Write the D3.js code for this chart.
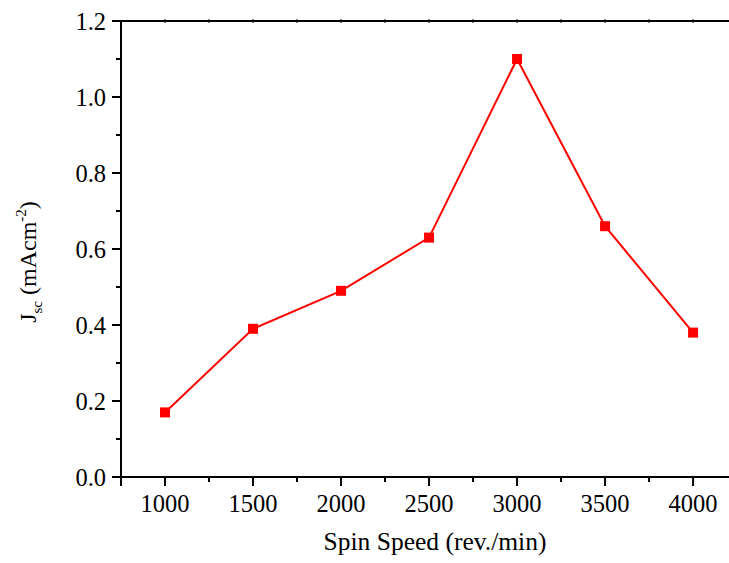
<!DOCTYPE html>
<html><head><meta charset="utf-8">
<script src="https://cdn.jsdelivr.net/npm/d3@7"></script>
<style>body{margin:0;background:#fff}svg{display:block}text{font-family:"Liberation Serif","Times New Roman",serif;fill:#000}</style>
</head><body>
<script>
const speeds = [1000, 1500, 2000, 2500, 3000, 3500, 4000];
const jsc = [0.17, 0.39, 0.49, 0.63, 1.10, 0.66, 0.38];
const xTicks = [1000, 1500, 2000, 2500, 3000, 3500, 4000];
const yTicks = [0.0, 0.2, 0.4, 0.6, 0.8, 1.0, 1.2];

const W = 729, H = 563;
const L = 121, R = 723, T = 21, B = 477;
const svg = d3.select("body").append("svg").attr("width", W).attr("height", H);
const x = d3.scaleLinear().domain([750, 4170]).range([L, R]);
const y = d3.scaleLinear().domain([0, 1.2]).range([B, T]);

const fs = 24.5;
// bottom axis
const gb = svg.append("g").attr("transform", `translate(0,${B})`);
gb.append("line").attr("x1", L - 8).attr("x2", W).attr("y1", 0).attr("y2", 0).attr("stroke", "#000").attr("stroke-width", 2);
const minorX = d3.range(1250, 4200, 500);
gb.selectAll(".mj").data(xTicks).join("line").attr("x1", d => x(d)).attr("x2", d => x(d)).attr("y1", 0).attr("y2", 9).attr("stroke", "#000").attr("stroke-width", 2);
gb.selectAll(".mn").data(minorX.filter(d => x(d) < W)).join("line").attr("class","mn").attr("x1", d => x(d)).attr("x2", d => x(d)).attr("y1", 0).attr("y2", 5).attr("stroke", "#000").attr("stroke-width", 2);
gb.selectAll(".lb").data(xTicks).join("text").attr("x", d => x(d)).attr("y", 35).attr("text-anchor", "middle").attr("font-size", fs).text(d => d);

// top axis
const gt = svg.append("g").attr("transform", `translate(0,${T})`);
gt.append("line").attr("x1", L - 8).attr("x2", W).attr("y1", 0).attr("y2", 0).attr("stroke", "#000").attr("stroke-width", 2);
gt.selectAll(".t").data(xTicks.concat(minorX)).join("line").attr("x1", d => x(d)).attr("x2", d => x(d)).attr("y1", -1.5).attr("y2", 1.5).attr("stroke", "#000").attr("stroke-width", 2);

// left axis
const gl = svg.append("g").attr("transform", `translate(${L},0)`);
gl.append("line").attr("x1", 0).attr("x2", 0).attr("y1", T).attr("y2", B + 9).attr("stroke", "#000").attr("stroke-width", 2);
gl.selectAll(".mj").data(yTicks).join("line").attr("x1", -9).attr("x2", 0).attr("y1", d => y(d)).attr("y2", d => y(d)).attr("stroke", "#000").attr("stroke-width", 2);
gl.selectAll(".mn").data(d3.range(0.1, 1.2, 0.2)).join("line").attr("class","mn").attr("x1", -5).attr("x2", 0).attr("y1", d => y(d)).attr("y2", d => y(d)).attr("stroke", "#000").attr("stroke-width", 2);
gl.selectAll(".lb").data(yTicks).join("text").attr("x", -15).attr("y", d => y(d)).attr("dy", "0.35em").attr("text-anchor", "end").attr("font-size", fs).text(d => d.toFixed(1));

// titles
svg.append("text").attr("x", 435).attr("y", 550).attr("text-anchor", "middle").attr("font-size", 25.5).text("Spin Speed (rev./min)");
const yl = svg.append("text").attr("transform", `translate(36,262) rotate(-90)`).attr("text-anchor", "middle").attr("font-size", 24);
yl.append("tspan").text("J");
yl.append("tspan").attr("font-size", 15).attr("dy", 6).text("sc");
yl.append("tspan").attr("dy", -6).text("\u00a0(mAcm");
yl.append("tspan").attr("font-size", 15).attr("dy", -10).text("-2");
yl.append("tspan").attr("dy", 10).text(")");

// data
svg.append("path").datum(speeds.map((s, i) => [s, jsc[i]]))
  .attr("fill", "none").attr("stroke", "#ff0000").attr("stroke-width", 2)
  .attr("d", d3.line().x(d => x(d[0])).y(d => y(d[1])));
svg.selectAll(".pt").data(speeds.map((s, i) => [s, jsc[i]])).join("rect")
  .attr("x", d => x(d[0]) - 5).attr("y", d => y(d[1]) - 5).attr("width", 10).attr("height", 10).attr("fill", "#ff0000");
</script>
</body></html>
